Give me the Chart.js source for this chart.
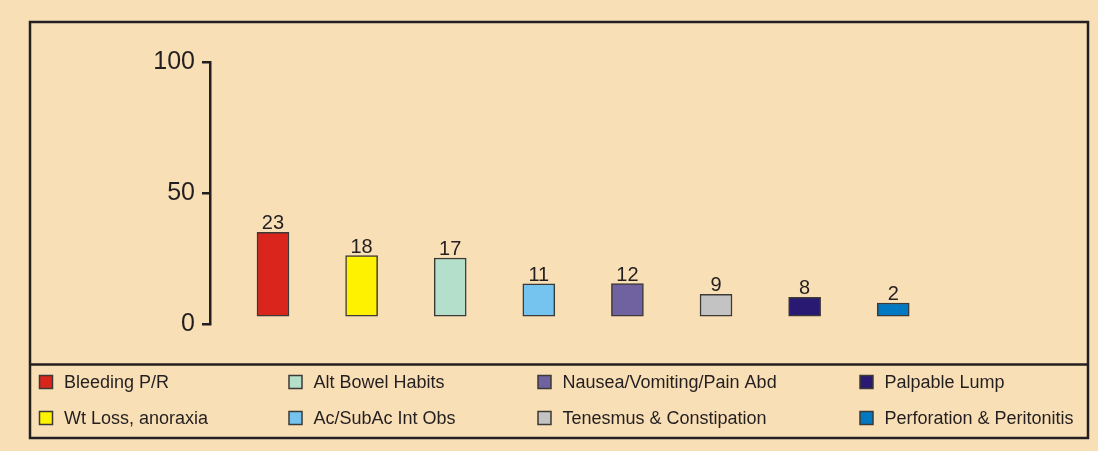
<!DOCTYPE html>
<html>
<head>
<meta charset="utf-8">
<script src="https://cdn.jsdelivr.net/npm/chart.js@4/dist/chart.umd.min.js"></script>
<style>
  html, body { margin: 0; padding: 0; background: #f9dfb6; }
  #wrap { width: 1098px; height: 451px; position: relative; }
</style>
</head>
<body>
<div id="wrap"><canvas id="chart" width="1098" height="451"></canvas></div>
<script>
// categories, in the order of the bars
const categories = [
    "Bleeding P/R",
    "Wt Loss, anoraxia",
    "Alt Bowel Habits",
    "Ac/SubAc Int Obs",
    "Nausea/Vomiting/Pain Abd",
    "Tenesmus & Constipation",
    "Palpable Lump",
    "Perforation & Peritonitis"
];
// numbers printed above the bars
const counts = [23, 18, 17, 11, 12, 9, 8, 2];
// bar tops as read against the 0-100 axis (bars start slightly above 0)
const barTops = [35, 26.1, 25.2, 15.3, 15.4, 11.3, 10.2, 8];
const barBase = 3;
const yTickValues = [0, 50, 100];
const barColors = ["#d9251c", "#fff200", "#b4dfca", "#74c4ef", "#7061a0", "#c3c3c3", "#2a1973", "#0079c2"];

const ink = "#231f20";
const fontFamily = "'Liberation Sans', Arial, sans-serif";

// frame + legend, drawn behind/around the chart
const framePlugin = {
    id: "frame",
    beforeDraw(chart) {
        const c = chart.ctx;
        c.save();
        c.fillStyle = "#f9dfb6";
        c.fillRect(0, 0, chart.width, chart.height);
        c.restore();
    },
    afterDraw(chart) {
        const c = chart.ctx;
        c.save();
        c.strokeStyle = ink;
        c.lineWidth = 2.5;
        c.strokeRect(30, 22, 1058, 416);
        c.beginPath();
        c.moveTo(30, 364.5);
        c.lineTo(1088, 364.5);
        c.stroke();

        // legend, column by column
        const colX = [39.5, 289, 538, 860];
        const rowY = [382, 418];
        const ds = chart.data.datasets[0];
        c.font = "18px " + fontFamily;
        c.textBaseline = "middle";
        chart.data.labels.forEach((lab, i) => {
            const x = colX[Math.floor(i / 2)];
            const y = rowY[i % 2];
            c.fillStyle = ds.backgroundColor[i];
            c.fillRect(x, y - 6.5, 13, 13);
            c.lineWidth = 1.5;
            c.strokeStyle = "#3c3a36";
            c.strokeRect(x, y - 6.5, 13, 13);
            c.fillStyle = ink;
            c.fillText(lab, x + 24.5, y + 1);
        });
        c.restore();
    }
};

// the numbers above each bar
const countLabels = {
    id: "countLabels",
    afterDatasetsDraw(chart) {
        const c = chart.ctx;
        const meta = chart.getDatasetMeta(0);
        c.save();
        c.font = "20px " + fontFamily;
        c.fillStyle = ink;
        c.textAlign = "center";
        c.textBaseline = "alphabetic";
        meta.data.forEach((bar, i) => {
            c.fillText(String(counts[i]), bar.x, bar.y - 3);
        });
        c.restore();
    }
};

new Chart(document.getElementById("chart"), {
    type: "bar",
    data: {
        labels: categories,
        datasets: [{
            data: barTops.map((v, i) => ({ x: i, y: v })),
            base: barBase,
            backgroundColor: barColors,
            borderColor: "#3c3a36",
            borderWidth: 1.5,
            barThickness: 32,
            borderSkipped: false
        }]
    },
    options: {
        responsive: false,
        animation: false,
        events: [],
        layout: { padding: { left: 0, top: 62, right: 98, bottom: 127 } },
        plugins: {
            legend: { display: false },
            tooltip: { enabled: false }
        },
        scales: {
            x: {
                type: "linear",
                display: false,
                offset: false,
                min: -0.711,
                max: 8.205
            },
            y: {
                min: 0,
                max: 100,
                afterFit: s => { s.width = 210; },
                afterBuildTicks: s => { s.ticks = yTickValues.map(v => ({ value: v })); },
                border: { display: true, color: ink, width: 2.5 },
                grid: {
                    display: true,
                    drawOnChartArea: false,
                    drawTicks: true,
                    tickLength: 8,
                    color: ink,
                    lineWidth: 2.5
                },
                ticks: {
                    padding: 7,
                    color: ink,
                    font: { family: fontFamily, size: 25 }
                }
            }
        }
    },
    plugins: [framePlugin, countLabels]
});
</script>
</body>
</html>
